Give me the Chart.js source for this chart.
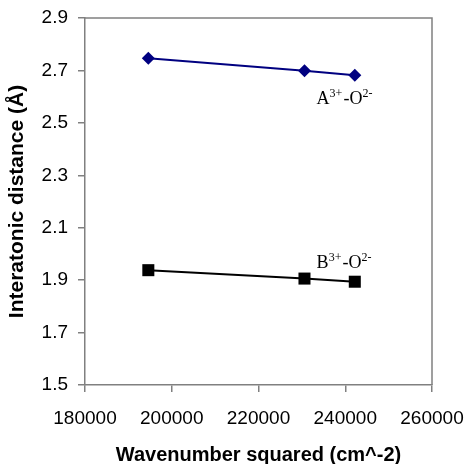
<!DOCTYPE html>
<html>
<head>
<meta charset="utf-8">
<script src="https://cdn.jsdelivr.net/npm/chart.js@4/dist/chart.umd.min.js"></script>
<style>
  body { margin: 0; background: #fff; }
  canvas { display: block; }
</style>
</head>
<body>
<canvas id="distance-chart" width="467" height="464"></canvas>
<script>
// Wavenumber squared (cm^-2) for each sample
const wavenumberSq = [194600, 230600, 242200];
// Interatomic distances (Å)
const distanceA = [2.746, 2.699, 2.682];
const distanceB = [1.938, 1.906, 1.894];

// Labels next to each series: [base, sup, base, sup]
const labelA = ['A', '3+', '-O', '2-'];
const labelB = ['B', '3+', '-O', '2-'];
const labelAPos = { x: 233400, y: 2.572 };
const labelBPos = { x: 233400, y: 1.946 };

const axisColor = '#808080';

function toPoints(xs, ys) {
    return xs.map((x, i) => ({ x: x, y: ys[i] }));
}

// Top and right edges of the plot box
const frameBox = {
    id: 'frameBox',
    afterDraw(chart) {
        const { ctx, chartArea } = chart;
        ctx.save();
        ctx.strokeStyle = axisColor;
        ctx.lineWidth = 1.5;
        ctx.beginPath();
        ctx.moveTo(chartArea.left, chartArea.top);
        ctx.lineTo(chartArea.right, chartArea.top);
        ctx.lineTo(chartArea.right, chartArea.bottom);
        ctx.stroke();
        ctx.restore();
    }
};

// Ion pair labels with superscripts
function drawIonLabel(ctx, parts, x, y) {
    let cx = x;
    parts.forEach((part, i) => {
        const sup = i % 2 === 1;
        ctx.font = sup ? '12px "Liberation Serif"' : '18px "Liberation Serif"';
        ctx.fillText(part, cx, sup ? y - 7 : y);
        cx += ctx.measureText(part).width + (sup ? 1 : 0);
    });
}

const ionLabels = {
    id: 'ionLabels',
    afterDatasetsDraw(chart) {
        const { ctx, scales } = chart;
        ctx.save();
        ctx.fillStyle = '#000';
        ctx.textBaseline = 'alphabetic';
        ctx.textAlign = 'left';
        drawIonLabel(ctx, labelA, scales.x.getPixelForValue(labelAPos.x), scales.y.getPixelForValue(labelAPos.y));
        drawIonLabel(ctx, labelB, scales.x.getPixelForValue(labelBPos.x), scales.y.getPixelForValue(labelBPos.y));
        ctx.restore();
    }
};

const ctx = document.getElementById('distance-chart').getContext('2d');
new Chart(ctx, {
    type: 'scatter',
    data: {
        datasets: [{
            label: 'A3+-O2-',
            data: toPoints(wavenumberSq, distanceA),
            showLine: true,
            borderColor: '#000080',
            backgroundColor: '#000080',
            borderWidth: 2,
            pointStyle: 'rectRot',
            pointRadius: 6.5,
            pointBorderWidth: 0
        }, {
            label: 'B3+-O2-',
            data: toPoints(wavenumberSq, distanceB),
            showLine: true,
            borderColor: '#000000',
            backgroundColor: '#000000',
            borderWidth: 2,
            pointStyle: 'rect',
            pointRadius: 8.5,
            pointBorderWidth: 0
        }]
    },
    options: {
        responsive: false,
        animation: false,
        layout: {
            padding: { top: 18, right: 35, left: 0, bottom: 0 }
        },
        scales: {
            x: {
                type: 'linear',
                min: 180000,
                max: 260000,
                afterFit(scale) {
                    scale.height = 79;
                    scale.paddingLeft = 0;
                    scale.paddingRight = 0;
                },
                ticks: {
                    stepSize: 20000,
                    padding: 15,
                    color: '#000',
                    font: { family: '"Liberation Sans", Arial', size: 19 },
                    callback: v => String(v)
                },
                grid: { drawOnChartArea: false, drawTicks: true, tickLength: 7, color: axisColor, lineWidth: 1.5 },
                border: { color: axisColor, width: 1.5 },
                title: {
                    display: true,
                    text: 'Wavenumber squared (cm^-2)',
                    color: '#000',
                    padding: { top: 0, bottom: -3 },
                    font: { family: '"Liberation Sans", Arial', size: 20, weight: 'bold' }
                }
            },
            y: {
                min: 1.5,
                max: 2.9,
                afterFit(scale) {
                    scale.width = 85;
                    scale.paddingTop = 0;
                    scale.paddingBottom = 0;
                },
                ticks: {
                    stepSize: 0.2,
                    padding: 10,
                    color: '#000',
                    font: { family: '"Liberation Sans", Arial', size: 19 },
                    callback: v => v.toFixed(1)
                },
                grid: { drawOnChartArea: false, drawTicks: true, tickLength: 7, color: axisColor, lineWidth: 1.5 },
                border: { color: axisColor, width: 1.5 },
                title: {
                    display: true,
                    text: 'Interatonic distance (Å)',
                    color: '#000',
                    padding: { top: 5, bottom: 0 },
                    font: { family: '"Liberation Sans", Arial', size: 21, weight: 'bold' }
                }
            }
        },
        plugins: {
            legend: { display: false },
            tooltip: { enabled: false }
        }
    },
    plugins: [frameBox, ionLabels]
});
</script>
</body>
</html>
